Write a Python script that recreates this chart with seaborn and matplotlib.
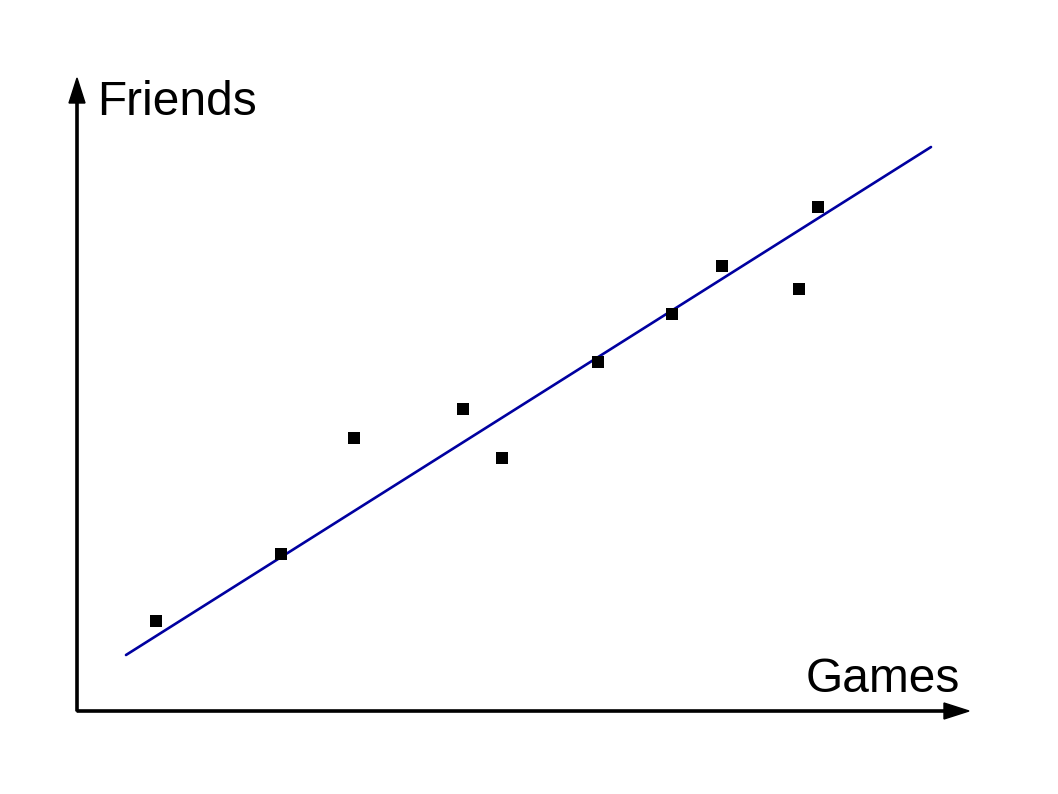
import numpy as np
import pandas as pd
import seaborn as sns
import matplotlib.pyplot as plt

# 데이터
games = [0.79, 2.04, 2.77, 3.86, 4.25, 5.21, 5.95, 6.45, 7.22, 7.41]
friends = [0.90, 1.57, 2.73, 3.02, 2.53, 3.49, 3.97, 4.45, 4.22, 5.04]
line_x = [0.49, 8.54]
line_y = [0.56, 5.64]
x_label = "Games"
y_label = "Friends"

df = pd.DataFrame({"games": games, "friends": friends})
fit = pd.DataFrame({"x": line_x, "y": line_y})

sns.set_style("white")
plt.rcParams['font.family'] = ['Liberation Sans', 'DejaVu Sans']

fig = plt.figure(figsize=(10.58, 7.94), dpi=100)
ax = fig.add_axes([0, 0, 1, 1])

# 추세선
sns.lineplot(data=fit, x="x", y="y", color="#0000a0", linewidth=1.9, ax=ax)
# 점
sns.scatterplot(data=df, x="games", y="friends", marker="s", s=76,
                color="black", linewidth=0, ax=ax, zorder=3)

# 화살표 축
ax.arrow(0, 0, 8.92, 0, width=0.022, head_width=0.16, head_length=0.25,
         length_includes_head=True, color="black")
ax.arrow(0, 0, 0, 6.33, width=0.022, head_width=0.16, head_length=0.25,
         length_includes_head=True, color="black")

ax.text(0.20, 5.96, y_label, fontsize=34.5, color="black", ha="left", va="baseline")
ax.text(8.83, 0.19, x_label, fontsize=34.5, color="black", ha="right", va="baseline")

ax.set_xlim(-0.77, 9.81)
ax.set_ylim(-0.83, 7.11)
ax.set_axis_off()

plt.savefig("out.png", dpi=100)
